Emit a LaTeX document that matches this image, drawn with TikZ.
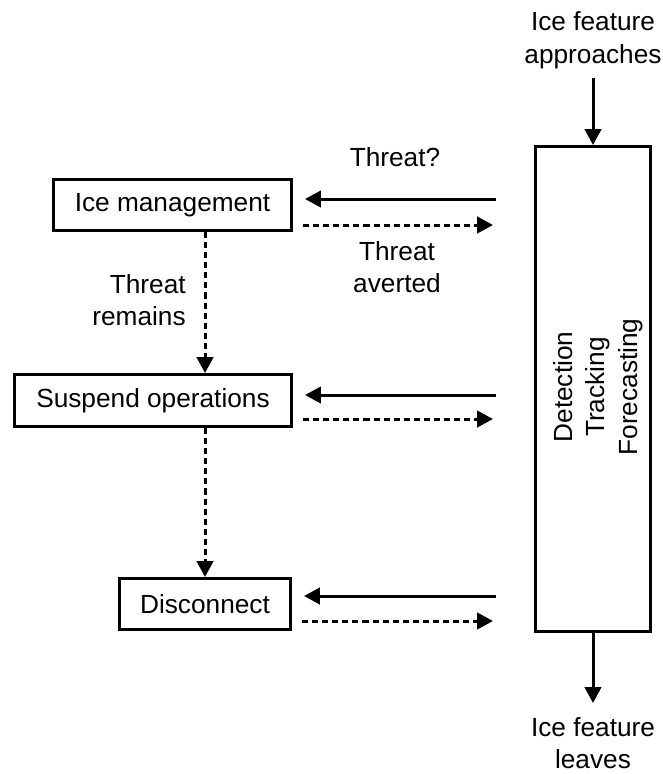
\documentclass[tikz,border=0pt]{standalone}
\usepackage{fontspec}
\setmainfont{Liberation Sans}
\usetikzlibrary{arrows.meta}
\usetikzlibrary{calc,positioning}

\begin{document}
\begin{tikzpicture}[x=0.015cm, y=-0.015cm, font=\fontsize{11.2}{13.8}\selectfont, line width=1.28pt,
  box/.style = {draw, inner sep=0},
  arr/.style = {-{Triangle[length=6.8pt, width=7pt]}},
  dasharr/.style = {arr, dash pattern=on 2.6pt off 1.7pt}]
\useasboundingbox (0,0) rectangle (662,774);

\node[box, minimum width=3.57cm, minimum height=0.765cm](mgmt) at (172.5,205){Ice management};
\node[box, minimum width=4.155cm, minimum height=0.78cm](susp) at (153,400.5){Suspend operations};
\node[box, minimum width=2.565cm, minimum height=0.765cm](disc) at (205,604){Disconnect};
\node[box, minimum width=1.725cm, minimum height=7.275cm](dtf) at (593,389){};
\node[rotate=90, align=center](dtftext) at (598,387){Detection\\Tracking\\Forecasting};

\node[align=center, anchor=south](approach) at (593,78){Ice feature\\approaches};
\node[align=center, anchor=north](leave) at (593,708){Ice feature\\leaves};

\node(threat) at (395,157){Threat?};
\node[align=center](averted) at (397,267){Threat\\averted};
\node[align=right, anchor=east](remains) at (195,300){Threat\\remains};

\draw [arr] (approach.south) to (dtf.north);
\draw [arr, shorten >=0.075cm] (dtf.south) to (leave.north);

\draw [arr] ($(dtf.west |- mgmt)+(-38,-6)$) to ($(mgmt.east)+(12,-6)$);
\draw [dasharr] ($(mgmt.east)+(10,20)$) to ($(dtf.west |- mgmt)+(-41,20)$);
\draw [arr] ($(dtf.west |- susp)+(-38,-5.5)$) to ($(susp.east)+(12,-5.5)$);
\draw [dasharr] ($(susp.east)+(10,18.5)$) to ($(dtf.west |- susp)+(-41,18.5)$);
\draw [arr] ($(dtf.west |- disc)+(-38,-8)$) to ($(disc.east)+(12,-8)$);
\draw [dasharr] ($(disc.east)+(10,17)$) to ($(dtf.west |- disc)+(-41,17)$);

\draw [dasharr] (mgmt.south -| disc.north) to (susp.north -| disc.north);
\draw [dasharr] (susp.south -| disc.north) to (disc.north);

\end{tikzpicture}
\end{document}
